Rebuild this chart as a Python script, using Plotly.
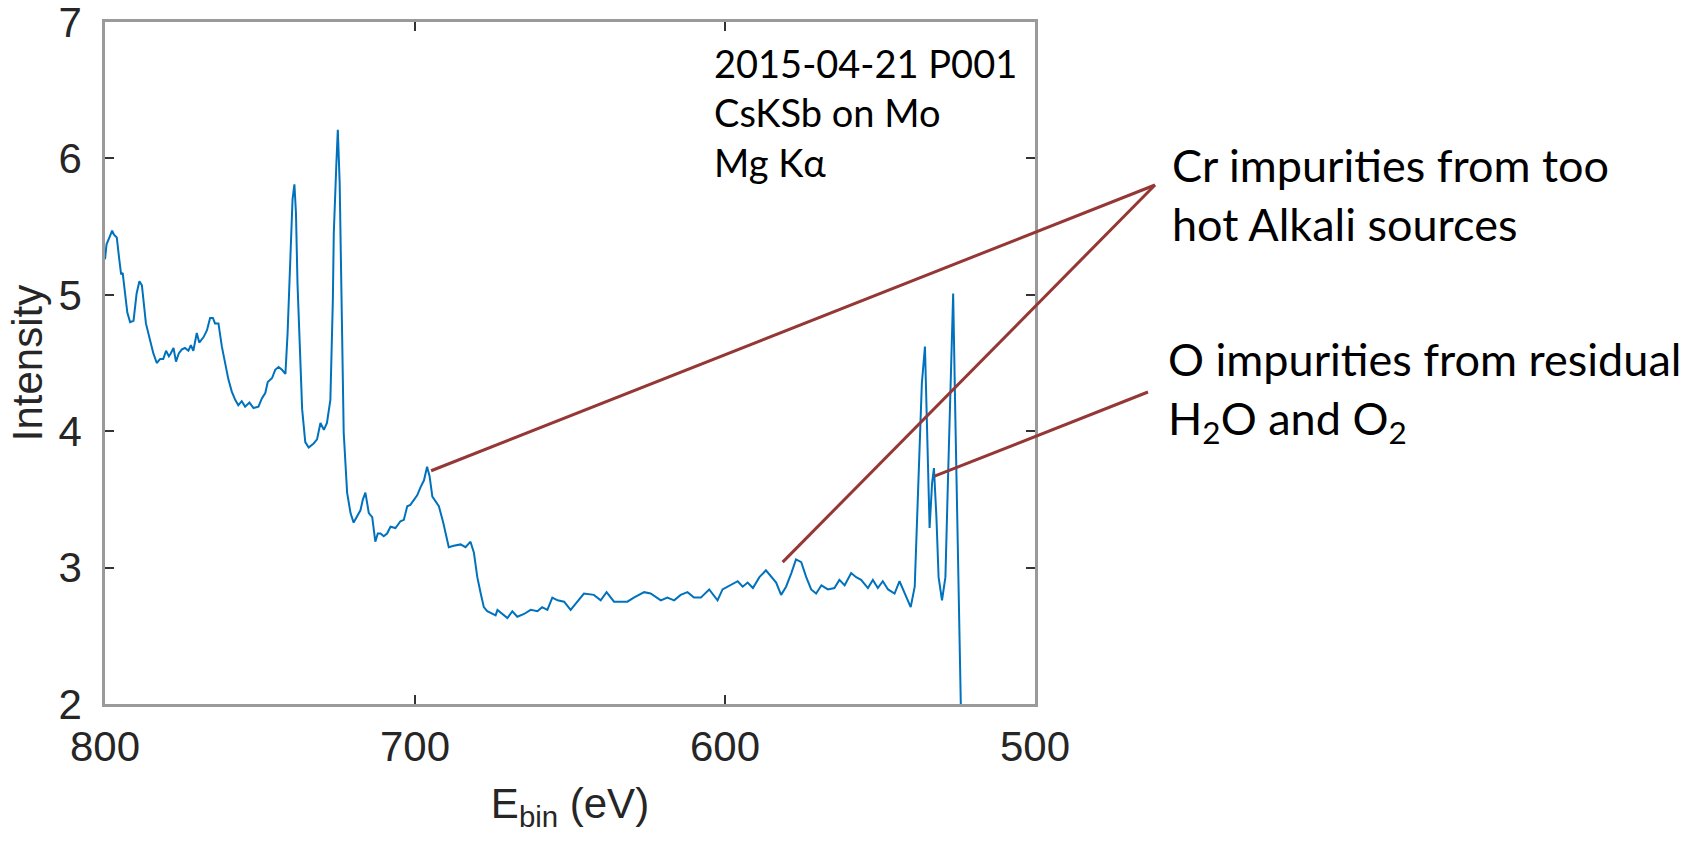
import plotly.graph_objects as go

# Binding energy (eV) and intensity
energy_ev = [
    800.0, 799.5, 798.6, 797.7, 797.1, 796.2, 795.4, 794.8, 794.3, 793.5,
    792.8, 791.9, 790.8, 789.8, 788.9, 788.1, 787.4, 786.8, 785.5, 784.4,
    783.3, 782.2, 781.2, 780.3, 779.4, 778.8, 777.9, 777.1, 776.2, 775.2,
    774.2, 773.1, 772.3, 771.5, 770.4, 769.6, 768.2, 767.1, 766.1, 765.2,
    764.5, 763.4, 762.3, 761.2, 760.2, 759.1, 758.0, 757.0, 755.9, 754.8,
    753.4, 752.1, 750.5, 749.4, 748.3, 747.5, 746.1, 745.1, 744.0, 742.9,
    741.8, 741.1, 740.2, 739.5, 738.9, 738.4, 737.9, 737.2, 736.4, 735.4,
    734.3, 732.7, 731.6, 730.5, 729.4, 728.4, 727.3, 726.5, 726.2, 725.4,
    724.9, 724.3, 723.9, 723.0, 721.9, 720.8, 719.8, 718.7, 717.6, 716.8,
    716.0, 714.9, 713.8, 712.8, 712.0, 711.1, 710.1, 709.0, 707.9, 706.3,
    704.7, 703.6, 702.5, 701.5, 700.4, 699.3, 698.2, 697.1, 696.1, 695.3,
    694.4, 693.3, 692.3, 690.9, 689.9, 689.1, 687.5, 685.3, 683.7, 682.1,
    681.0, 679.9, 678.8, 677.8, 676.7, 675.6, 674.0, 673.4, 671.8, 670.2,
    668.6, 667.0, 664.8, 662.7, 660.5, 659.0, 657.3, 655.7, 654.0, 651.9,
    649.8, 647.6, 645.5, 642.3, 640.1, 638.2, 635.8, 633.7, 631.5, 629.4,
    626.1, 624.0, 620.7, 618.6, 616.4, 614.3, 612.1, 610.0, 607.8, 605.1,
    602.4, 600.8, 599.1, 597.5, 595.9, 594.3, 592.7, 591.0, 588.9, 586.8,
    585.1, 583.5, 581.9, 580.3, 578.6, 577.1, 575.4, 573.8, 572.2, 570.6,
    568.9, 566.8, 564.7, 563.1, 561.4, 559.3, 557.7, 556.1, 553.9, 552.3,
    550.7, 549.1, 547.4, 545.3, 543.7, 542.1, 540.1, 538.8, 537.7, 536.5,
    535.5, 534.7, 534.0, 533.2, 532.6, 531.8, 531.1, 530.0, 528.9, 528.1,
    527.3, 526.4, 525.7, 525.0, 524.5, 524.1, 523.6,
]
intensity = [
    5.26, 5.37, 5.42, 5.47, 5.44, 5.42, 5.26, 5.15, 5.16, 5.01,
    4.87, 4.80, 4.81, 5.01, 5.10, 5.07, 4.91, 4.79, 4.67, 4.57,
    4.50, 4.53, 4.53, 4.59, 4.55, 4.57, 4.61, 4.51, 4.57, 4.60,
    4.61, 4.59, 4.63, 4.59, 4.72, 4.65, 4.69, 4.74, 4.83, 4.83,
    4.79, 4.79, 4.62, 4.50, 4.38, 4.29, 4.23, 4.19, 4.22, 4.18,
    4.21, 4.17, 4.18, 4.24, 4.28, 4.36, 4.39, 4.45, 4.47, 4.45,
    4.42, 4.72, 5.33, 5.70, 5.81, 5.60, 5.08, 4.60, 4.16, 3.92,
    3.88, 3.91, 3.94, 4.06, 4.01, 4.06, 4.23, 4.96, 5.45, 5.94,
    6.21, 5.82, 5.21, 3.99, 3.55, 3.40, 3.33, 3.37, 3.42, 3.50,
    3.55, 3.40, 3.37, 3.19, 3.25, 3.25, 3.23, 3.25, 3.30, 3.29,
    3.34, 3.35, 3.45, 3.46, 3.50, 3.53, 3.59, 3.64, 3.74, 3.67,
    3.52, 3.48, 3.45, 3.33, 3.23, 3.15, 3.16, 3.17, 3.15, 3.19,
    3.11, 2.93, 2.81, 2.71, 2.68, 2.67, 2.65, 2.69, 2.66, 2.63,
    2.68, 2.64, 2.66, 2.69, 2.68, 2.71, 2.69, 2.78, 2.76, 2.75,
    2.69, 2.75, 2.81, 2.80, 2.76, 2.82, 2.75, 2.75, 2.75, 2.78,
    2.82, 2.81, 2.76, 2.78, 2.76, 2.80, 2.82, 2.78, 2.78, 2.84,
    2.76, 2.84, 2.86, 2.88, 2.90, 2.86, 2.89, 2.85, 2.93, 2.98,
    2.93, 2.89, 2.80, 2.86, 2.96, 3.06, 3.04, 2.93, 2.84, 2.81,
    2.87, 2.84, 2.85, 2.91, 2.87, 2.96, 2.93, 2.91, 2.85, 2.91,
    2.85, 2.90, 2.84, 2.81, 2.90, 2.81, 2.71, 2.86, 3.62, 4.35,
    4.62, 3.86, 3.29, 3.62, 3.73, 3.37, 2.93, 2.76, 2.93, 3.62,
    4.35, 5.01, 4.11, 3.13, 2.40, 2.00, 1.60,
]

x_ticks = [800, 700, 600, 500]
y_ticks = [2, 3, 4, 5, 6, 7]

info_text = "2015-04-21 P001<br>CsKSb on Mo<br>Mg Kα"
cr_text = "Cr impurities from too<br>hot Alkali sources"
o_text = "O impurities from residual<br>H<sub>2</sub>O and O<sub>2</sub>"

# annotation anchor points on the spectrum (eV, intensity)
cr_points = [(694.8, 3.71), (581.4, 3.04)]
o_point = (532.4, 3.67)

W, H = 1694, 845
L, R, T, B = 105, 659, 22, 141
PW, PH = W - L - R, H - T - B
X_RANGE = [800, 500]
Y_RANGE = [2, 7]


def px(xp):
    return (xp - L) / PW


def py(yp):
    return (H - B - yp) / PH


def data_to_paper(e, v):
    fx = (e - X_RANGE[0]) / (X_RANGE[1] - X_RANGE[0])
    fy = (v - Y_RANGE[0]) / (Y_RANGE[1] - Y_RANGE[0])
    return fx, fy


LINE_RED = "#953735"
AX_FONT = dict(family="Liberation Sans, Arial, sans-serif", size=42, color="#262626")
TXT_FONT = "Lato, Carlito, Calibri, sans-serif"

fig = go.Figure()
fig.add_trace(go.Scatter(
    x=energy_ev, y=intensity, mode="lines",
    line=dict(color="#0072BD", width=2),
    showlegend=False, hoverinfo="skip",
))

# leader lines from the labels to the features of the spectrum
cr_apex = (px(1155), py(185))
o_apex = (px(1148), py(392))
shapes = []
for pt in cr_points:
    fx, fy = data_to_paper(*pt)
    shapes.append(dict(type="line", xref="paper", yref="paper",
                       x0=fx, y0=fy, x1=cr_apex[0], y1=cr_apex[1],
                       line=dict(color=LINE_RED, width=3)))
fx, fy = data_to_paper(*o_point)
shapes.append(dict(type="line", xref="paper", yref="paper",
                   x0=fx, y0=fy, x1=o_apex[0], y1=o_apex[1],
                   line=dict(color=LINE_RED, width=3)))

annotations = [
    dict(x=px(712), y=py(38), xref="paper", yref="paper", xanchor="left", yanchor="top",
         text=info_text, align="left", showarrow=False,
         font=dict(family=TXT_FONT, size=38, color="black")),
    dict(x=px(1170), y=py(136), xref="paper", yref="paper", xanchor="left", yanchor="top",
         text=cr_text, align="left", showarrow=False,
         font=dict(family=TXT_FONT, size=45, color="black")),
    dict(x=px(1166), y=py(330), xref="paper", yref="paper", xanchor="left", yanchor="top",
         text=o_text, align="left", showarrow=False,
         font=dict(family=TXT_FONT, size=45, color="black")),
]

axis_common = dict(
    showline=True, linecolor="#9a9a9a", linewidth=2.5, mirror="ticks",
    ticks="inside", ticklen=9, tickwidth=1.5, tickcolor="#333333",
    showgrid=False, zeroline=False, tickfont=AX_FONT,
    ticklabeloverflow="allow", automargin=False,
)

fig.update_layout(
    width=W, height=H, autosize=False,
    margin=dict(l=L, r=R, t=T, b=B, pad=0, autoexpand=False),
    paper_bgcolor="white", plot_bgcolor="white",
    xaxis=dict(
        range=X_RANGE, tickvals=x_ticks, ticktext=[str(v) for v in x_ticks],
        ticklabelstandoff=4,
        title=dict(text="E<sub>bin</sub> (eV)", font=AX_FONT, standoff=20),
        **axis_common,
    ),
    yaxis=dict(
        range=Y_RANGE, tickvals=y_ticks, ticktext=[str(v) for v in y_ticks],
        ticklabelstandoff=12,
        title=dict(text="Intensity", font=AX_FONT, standoff=3),
        **axis_common,
    ),
    shapes=shapes,
    annotations=annotations,
)

fig.write_html("out.html")
